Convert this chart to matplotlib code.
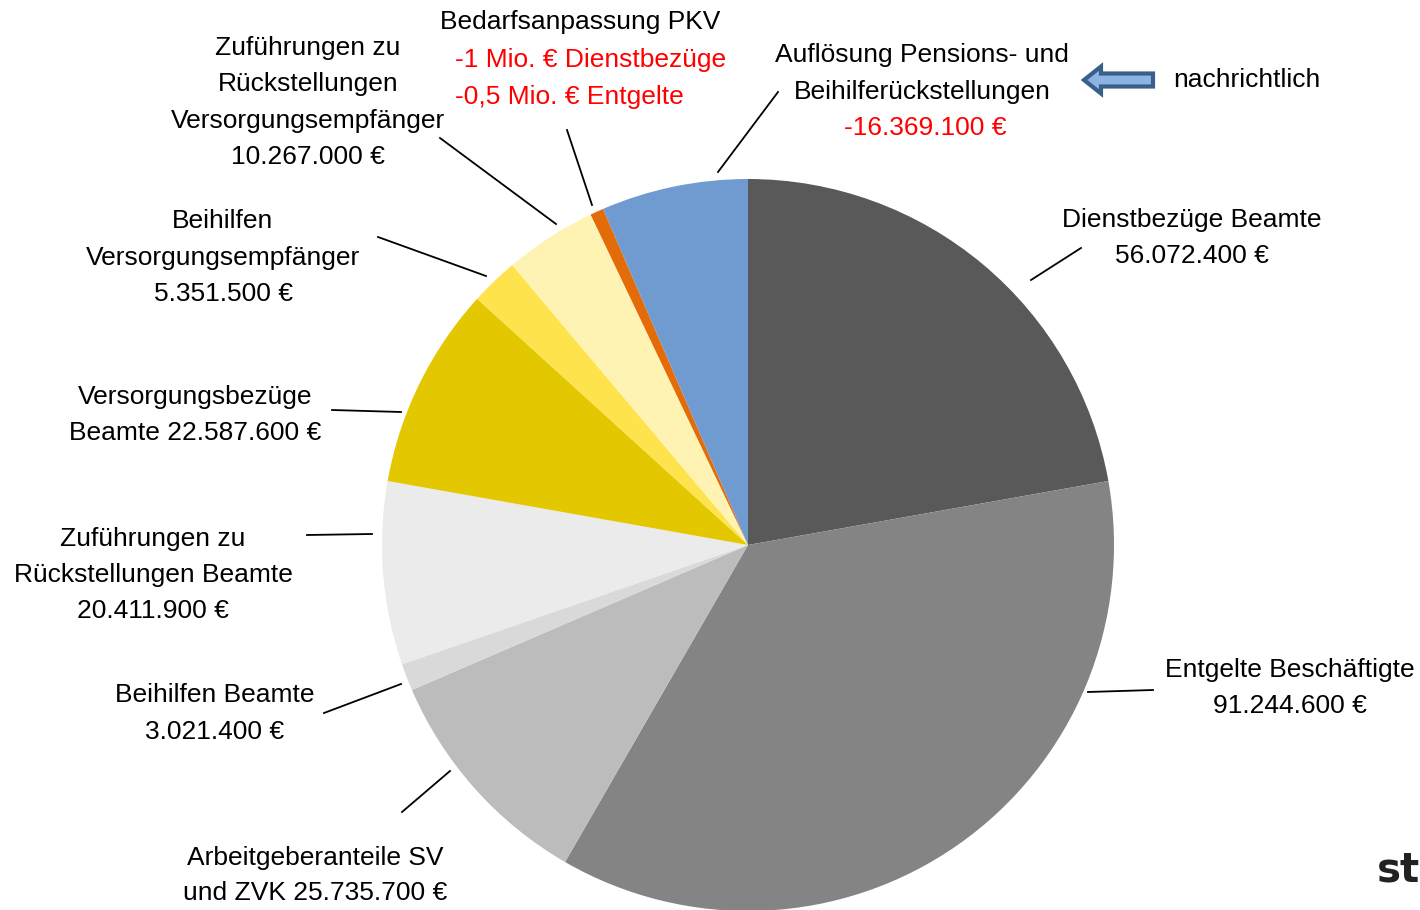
import matplotlib
matplotlib.use("Agg")
import matplotlib.pyplot as plt
from matplotlib import font_manager
from matplotlib.patches import FancyArrow

names = {f.name for f in font_manager.fontManager.ttflist}
FONT = "Liberation Sans Narrow" if "Liberation Sans Narrow" in names else "Liberation Sans"
plt.rcParams['font.family'] = [FONT, 'DejaVu Sans']

# ---- data ----
categories = [
    "Dienstbezüge Beamte",
    "Entgelte Beschäftigte",
    "Arbeitgeberanteile SV und ZVK",
    "Beihilfen Beamte",
    "Zuführungen zu Rückstellungen Beamte",
    "Versorgungsbezüge Beamte",
    "Beihilfen Versorgungsempfänger",
    "Zuführungen zu Rückstellungen Versorgungsempfänger",
    "Bedarfsanpassung PKV",
    "Auflösung Pensions- und Beihilferückstellungen",
]
values = [56072400, 91244600, 25735700, 3021400, 20411900,
          22587600, 5351500, 10267000, 1500000, 16369100]
colors = ["#595959", "#848484", "#bcbcbc", "#d9d9d9", "#ebebeb",
          "#e3c700", "#ffe34d", "#fff3b3", "#e36c09", "#6f9bd1"]

W, H = 1420, 910
fig = plt.figure(figsize=(W / 100, H / 100), dpi=100)
ax = fig.add_axes([0, 0, 1, 1])

def Y(y):
    return H - y

ax.pie(values, colors=colors, startangle=90, counterclock=False,
       center=(748, Y(545)), radius=366, frame=True,
       wedgeprops=dict(linewidth=0))
ax.set_xlim(0, W)
ax.set_ylim(0, H)
ax.axis("off")

FS = 19 if FONT == "Liberation Sans" else 20
def txt(x, y, s, color="black", ha="center"):
    ax.text(x, Y(y), s, fontsize=FS, color=color, ha=ha, va="center")

def line(x1, y1, x2, y2):
    ax.plot([x1, x2], [Y(y1), Y(y2)], color="black", lw=1.3)

# labels
txt(580, 22, "Bedarfsanpassung PKV")
txt(455, 60, "-1 Mio. € Dienstbezüge", color="#ff0000", ha="left")
txt(455, 97, "-0,5 Mio. € Entgelte", color="#ff0000", ha="left")
line(567, 130, 592, 205)

txt(922, 55, "Auflösung Pensions- und")
txt(922, 92, "Beihilferückstellungen")
txt(925, 128, "-16.369.100 €", color="#ff0000")
line(778, 92, 718, 172)

for i, s in enumerate(["Zuführungen zu", "Rückstellungen",
                       "Versorgungsempfänger", "10.267.000 €"]):
    txt(308, 48 + i * 36.5, s)
line(440, 138, 556, 224)

for i, s in enumerate(["Beihilfen", "Versorgungsempfänger", "5.351.500 €"]):
    txt(223, 221 + i * 36.5, s)
line(378, 237, 486, 276)

for i, s in enumerate(["Versorgungsbezüge", "Beamte 22.587.600 €"]):
    txt(195, 397 + i * 36, s)
line(332, 410, 401, 412)

for i, s in enumerate(["Zuführungen zu", "Rückstellungen Beamte", "20.411.900 €"]):
    txt(153, 539 + i * 36, s)
line(307, 535, 372, 534)

for i, s in enumerate(["Beihilfen Beamte", "3.021.400 €"]):
    txt(215, 695 + i * 37, s)
line(324, 713, 401, 684)

for i, s in enumerate(["Arbeitgeberanteile SV", "und ZVK 25.735.700 €"]):
    txt(315, 858 + i * 35, s)
line(402, 812, 450, 771)

for i, s in enumerate(["Dienstbezüge Beamte", "56.072.400 €"]):
    txt(1192, 220 + i * 36, s)
line(1031, 280, 1081, 248)

for i, s in enumerate(["Entgelte Beschäftigte", "91.244.600 €"]):
    txt(1290, 670 + i * 36, s)
line(1088, 692, 1153, 690)

txt(1173, 80, "nachrichtlich", ha="left")

arrow = FancyArrow(1153, Y(80), -69, 0, width=13, head_width=27,
                   head_length=17, length_includes_head=True,
                   facecolor="#8db3e2", edgecolor="#3a5f8a", lw=3)
ax.add_patch(arrow)

ax.text(1377, Y(870), "st", fontsize=29, fontweight="bold",
        color="#222222", ha="left", va="center", family="DejaVu Sans")

fig.savefig("out.png", dpi=100)
